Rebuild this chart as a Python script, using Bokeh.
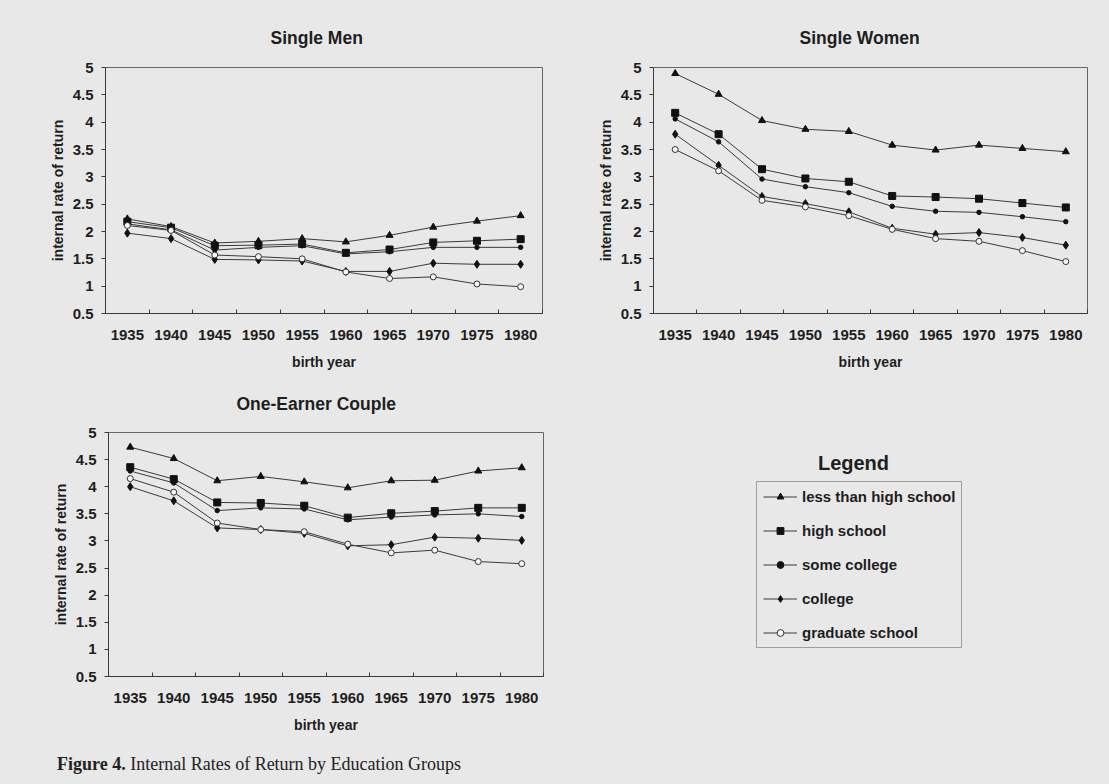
from bokeh.plotting import figure
from bokeh.models import (Range1d, FixedTicker, NumeralTickFormatter, Legend,
                          LegendItem, Label, Div)
from bokeh.layouts import column, row
from bokeh.embed import file_html
from bokeh.resources import INLINE

# ---------------- data ----------------
years = [1935, 1940, 1945, 1950, 1955, 1960, 1965, 1970, 1975, 1980]
groups = ["less than high school", "high school", "some college", "college", "graduate school"]
y_ticks = [0.5, 1, 1.5, 2, 2.5, 3, 3.5, 4, 4.5, 5]

men_lths = [2.23, 2.09, 1.79, 1.82, 1.87, 1.81, 1.93, 2.08, 2.19, 2.29]
men_hs = [2.18, 2.07, 1.74, 1.75, 1.77, 1.61, 1.67, 1.80, 1.83, 1.86]
men_sc = [2.14, 2.03, 1.66, 1.71, 1.74, 1.59, 1.63, 1.71, 1.71, 1.71]
men_col = [1.97, 1.87, 1.49, 1.48, 1.46, 1.27, 1.27, 1.42, 1.40, 1.40]
men_grad = [2.11, 2.02, 1.57, 1.54, 1.50, 1.26, 1.14, 1.17, 1.04, 0.99]

women_lths = [4.89, 4.51, 4.03, 3.87, 3.83, 3.58, 3.49, 3.58, 3.52, 3.46]
women_hs = [4.17, 3.78, 3.14, 2.97, 2.91, 2.65, 2.63, 2.60, 2.52, 2.44]
women_sc = [4.06, 3.64, 2.96, 2.82, 2.71, 2.46, 2.37, 2.35, 2.27, 2.18]
women_col = [3.78, 3.21, 2.64, 2.51, 2.36, 2.06, 1.95, 1.98, 1.89, 1.75]
women_grad = [3.50, 3.11, 2.57, 2.45, 2.29, 2.04, 1.87, 1.82, 1.65, 1.45]

couple_lths = [4.73, 4.52, 4.11, 4.19, 4.09, 3.98, 4.11, 4.12, 4.29, 4.35]
couple_hs = [4.36, 4.14, 3.71, 3.70, 3.65, 3.43, 3.51, 3.55, 3.61, 3.61]
couple_sc = [4.29, 4.07, 3.56, 3.61, 3.59, 3.39, 3.44, 3.48, 3.50, 3.45]
couple_col = [4.00, 3.74, 3.24, 3.21, 3.14, 2.91, 2.93, 3.07, 3.05, 3.01]
couple_grad = [4.15, 3.90, 3.33, 3.21, 3.17, 2.94, 2.78, 2.83, 2.62, 2.58]

# ---------------- styles ----------------
BG = "#e8e8e8"
INK = "#1e1e1e"
LINE = "#3a3a3a"
FONT = "Liberation Sans"
markers = [
    dict(marker="triangle", size=7, fill_color="#111111", line_color="#111111"),
    dict(marker="square", size=7, fill_color="#111111", line_color="#111111"),
    dict(marker="circle", size=4.5, fill_color="#111111", line_color="#111111"),
    dict(marker="diamond", size=8, fill_color="#111111", line_color="#111111"),
    dict(marker="circle", size=6, fill_color="#f6f6f6", line_color="#333333"),
]


def panel(title, series, width, height, left, right, top, bottom, title_offset, title_standoff):
    p = figure(width=width, height=height, output_backend="svg", toolbar_location=None,
               x_range=Range1d(1932.5, 1982.5), y_range=Range1d(0.5, 5),
               min_border_left=left, min_border_right=right,
               min_border_top=top, min_border_bottom=bottom)
    p.background_fill_color = BG
    p.border_fill_color = BG
    p.outline_line_color = "#666666"
    p.grid.visible = False

    p.title.text = title
    p.title.align = "left"
    p.title.offset = title_offset
    p.title.standoff = title_standoff
    p.title.text_font = FONT
    p.title.text_font_style = "bold"
    p.title.text_font_size = "17.5px"
    p.title.text_color = INK

    xa = p.xaxis[0]
    xa.ticker = FixedTicker(ticks=years, minor_ticks=[1932.5 + 5 * i for i in range(11)])
    xa.major_tick_in = 0
    xa.major_tick_out = 0
    xa.minor_tick_in = 4
    xa.minor_tick_out = 0
    xa.minor_tick_line_color = LINE
    xa.major_label_standoff = 16
    xa.axis_label = "birth year"
    xa.axis_label_standoff = 11

    ya = p.yaxis[0]
    ya.ticker = FixedTicker(ticks=y_ticks, minor_ticks=[])
    ya.formatter = NumeralTickFormatter(format="0.[0]")
    ya.major_tick_in = 0
    ya.major_tick_out = 4
    ya.major_label_standoff = 8
    ya.axis_label = "internal rate of return"
    ya.axis_label_standoff = 4

    for ax in (xa, ya):
        ax.axis_line_color = LINE
        ax.major_tick_line_color = LINE
        ax.major_label_text_font = FONT
        ax.major_label_text_font_style = "bold"
        ax.major_label_text_font_size = "15px"
        ax.major_label_text_color = INK
        ax.axis_label_text_font = FONT
        ax.axis_label_text_font_style = "bold"
        ax.axis_label_text_font_size = "14px"
        ax.axis_label_text_color = INK

    for vals, m in zip(series, markers):
        p.line(years, vals, line_color=LINE, line_width=1)
        p.scatter(years, vals, **m)
    return p


# page margin of 8px is folded into the left/top borders
p1 = panel("Single Men", [men_lths, men_hs, men_sc, men_col, men_grad],
           560, 372, 105, 18, 67, 59, 165, 40)
p2 = panel("Single Women", [women_lths, women_hs, women_sc, women_col, women_grad],
           537, 372, 93, 10, 67, 59, 146, 40)
p3 = panel("One-Earner Couple", [couple_lths, couple_hs, couple_sc, couple_col, couple_grad],
           560, 373, 108, 17, 60, 69, 128, 37)

# ---------------- legend panel (frame aligned with the One-Earner panel) ----------------
lf = figure(width=537, height=373, output_backend="svg", toolbar_location=None,
            x_range=Range1d(0, 1), y_range=Range1d(0, 1),
            min_border_left=0, min_border_right=0, min_border_top=60, min_border_bottom=69,
            x_axis_location=None, y_axis_location=None)
lf.background_fill_color = BG
lf.border_fill_color = BG
lf.outline_line_color = None
lf.grid.visible = False

items = []
for g, m, vals in zip(groups, markers, [couple_lths, couple_hs, couple_sc, couple_col, couple_grad]):
    # legend-only renderers (hidden): they carry the series style for the legend swatches
    lr = lf.line(x=years, y=vals, line_color=LINE, line_width=1, visible=False)
    sr = lf.scatter(x=years, y=vals, visible=False, **m)
    items.append(LegendItem(label=g, renderers=[lr, sr]))

leg = Legend(items=items, location=(196, 28), margin=0, padding=6,
             glyph_width=34, glyph_height=17, label_height=17, spacing=17,
             label_standoff=5, border_line_color="#555555", border_line_width=1,
             background_fill_color=BG, background_fill_alpha=1,
             label_text_font=FONT, label_text_font_style="bold",
             label_text_font_size="15px", label_text_color=INK)
lf.add_layout(leg)
lf.add_layout(Label(x=293, y=214, x_units="screen", y_units="screen", text="Legend",
                    text_align="center", text_baseline="middle", text_font=FONT,
                    text_font_style="bold", text_font_size="20px", text_color=INK))

cap = Div(text='<div style="font-family: \'Liberation Serif\', serif; font-size: 18px; '
               'color: #222; padding-left: 57px; padding-top: 7px;">'
               '<b>Figure 4.</b> Internal Rates of Return by Education Groups</div>',
          width=1097, height=30, margin=(0, 0, 0, 0))

layout = column(row(p1, p2), row(p3, lf), cap)

html = file_html(layout, INLINE, title="Internal Rates of Return by Education Groups")
html = html.replace("</head>", "<style>body{background:%s;}</style></head>" % BG, 1)
open("out.html", "w").write(html)
